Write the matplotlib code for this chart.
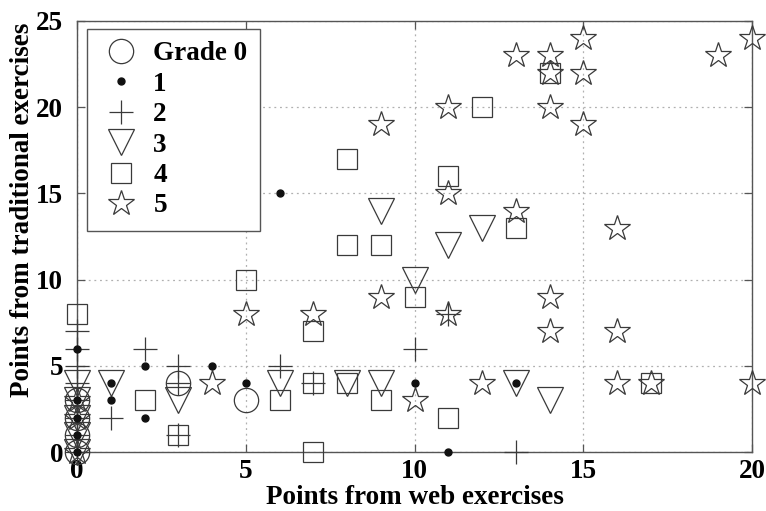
import matplotlib
matplotlib.use("Agg")
import matplotlib.pyplot as plt

# ---- data ----
grade0_x = [0, 0, 0, 0, 3, 5]
grade0_y = [0, 1, 2, 3, 4, 3]

grade1_x = [0, 0, 0, 0, 0, 1, 1, 2, 2, 4, 5, 6, 10, 11, 13]
grade1_y = [6, 3, 2, 1, 0, 4, 3, 5, 2, 5, 4, 15, 4, 0, 4]

grade2_x = [0, 0, 0, 0, 0, 0, 0, 0, 1, 2, 3, 3, 3, 6, 7, 10, 11, 13]
grade2_y = [0, 1, 2, 3, 4, 5, 6, 7, 2, 6, 5, 4, 1, 5, 4, 6, 8, 0]

grade3_x = [0, 0, 0, 0, 0, 1, 3, 6, 8, 9, 9, 10, 11, 12, 13, 14]
grade3_y = [4, 3, 2, 1, 0, 4, 3, 4, 4, 4, 14, 10, 12, 13, 4, 3]

grade4_x = [0, 2, 3, 5, 6, 7, 7, 7, 8, 9, 8, 9, 8, 10, 11, 11, 12, 13, 14, 17]
grade4_y = [8, 3, 1, 10, 3, 7, 4, 0, 4, 3, 12, 12, 17, 9, 16, 2, 20, 13, 22, 4]

grade5_x = [0, 0, 0, 4, 5, 7, 9, 9, 10, 11, 11, 11, 12, 13, 13, 14, 14, 14, 14,
            14, 15, 15, 15, 16, 16, 16, 17, 19, 20, 20]
grade5_y = [3, 2, 0, 4, 8, 8, 9, 19, 3, 8, 15, 20, 4, 14, 23, 23, 22, 20, 9,
            7, 24, 22, 19, 13, 7, 4, 4, 23, 24, 4]

labels = ["Grade 0", "1", "2", "3", "4", "5"]
x_ticks = [0, 5, 10, 15, 20]
y_ticks = [0, 5, 10, 15, 20, 25]

# ---- style ----
font = "Liberation Serif"
fs = 19.5
mc = "#3a3a3a"
fig = plt.figure(figsize=(7.66, 5.11), dpi=100)
ax = fig.add_axes([77 / 766, (511 - 452) / 511, (752 - 77) / 766, (452 - 21) / 511])

common = dict(linestyle="none", markerfacecolor="none", markeredgecolor=mc,
              markeredgewidth=0.9, clip_on=False, zorder=3)
h0, = ax.plot(grade0_x, grade0_y, marker="o", markersize=17.5, label=labels[0], **common)
h1, = ax.plot(grade1_x, grade1_y, marker="o", markersize=5, linestyle="none",
              color="#111111", markeredgecolor="#111111", clip_on=False, zorder=4,
              label=labels[1])
h2, = ax.plot(grade2_x, grade2_y, marker="+", markersize=17, label=labels[2], **common)
h3, = ax.plot(grade3_x, grade3_y, marker="v", markersize=19, label=labels[3], **common)
h4, = ax.plot(grade4_x, grade4_y, marker="s", markersize=15, label=labels[4], **common)
h5, = ax.plot(grade5_x, grade5_y, marker="*", markersize=19, label=labels[5], **common)

ax.set_xlim(0, 20)
ax.set_ylim(0, 25)
ax.set_xticks(x_ticks)
ax.set_yticks(y_ticks)
ax.tick_params(direction="in", length=6, width=0.9, color="#555555",
               top=True, right=True, labelsize=fs)
ax.tick_params(axis="x", pad=5)
ax.tick_params(axis="y", pad=10)
for lab in ax.get_xticklabels() + ax.get_yticklabels():
    lab.set_fontfamily(font)
    lab.set_fontweight("bold")
for sp in ax.spines.values():
    sp.set_color("#555555")
    sp.set_linewidth(1.0)
ax.grid(True, linestyle=(0, (1.5, 3)), color="#b0b0b0", linewidth=0.9, zorder=0)
ax.set_axisbelow(True)

ax.set_xlabel("Points from web exercises", fontfamily=font, fontweight="bold",
              fontsize=fs, labelpad=1)
ax.set_ylabel("Points from traditional exercises", fontfamily=font, fontweight="bold",
              fontsize=fs)
ax.yaxis.set_label_coords(-0.062, 0.561)

leg = ax.legend(loc="upper left", bbox_to_anchor=(0.0148, 0.981), frameon=True,
                fancybox=False, framealpha=1, edgecolor="#555555",
                prop={"family": font, "weight": "bold", "size": fs},
                handlelength=1.6, handletextpad=0.4, labelspacing=0.2,
                borderpad=0.45, borderaxespad=0, numpoints=1)
leg.get_frame().set_linewidth(1.0)
leg.set_zorder(10)

fig.savefig("out.png", dpi=100)
